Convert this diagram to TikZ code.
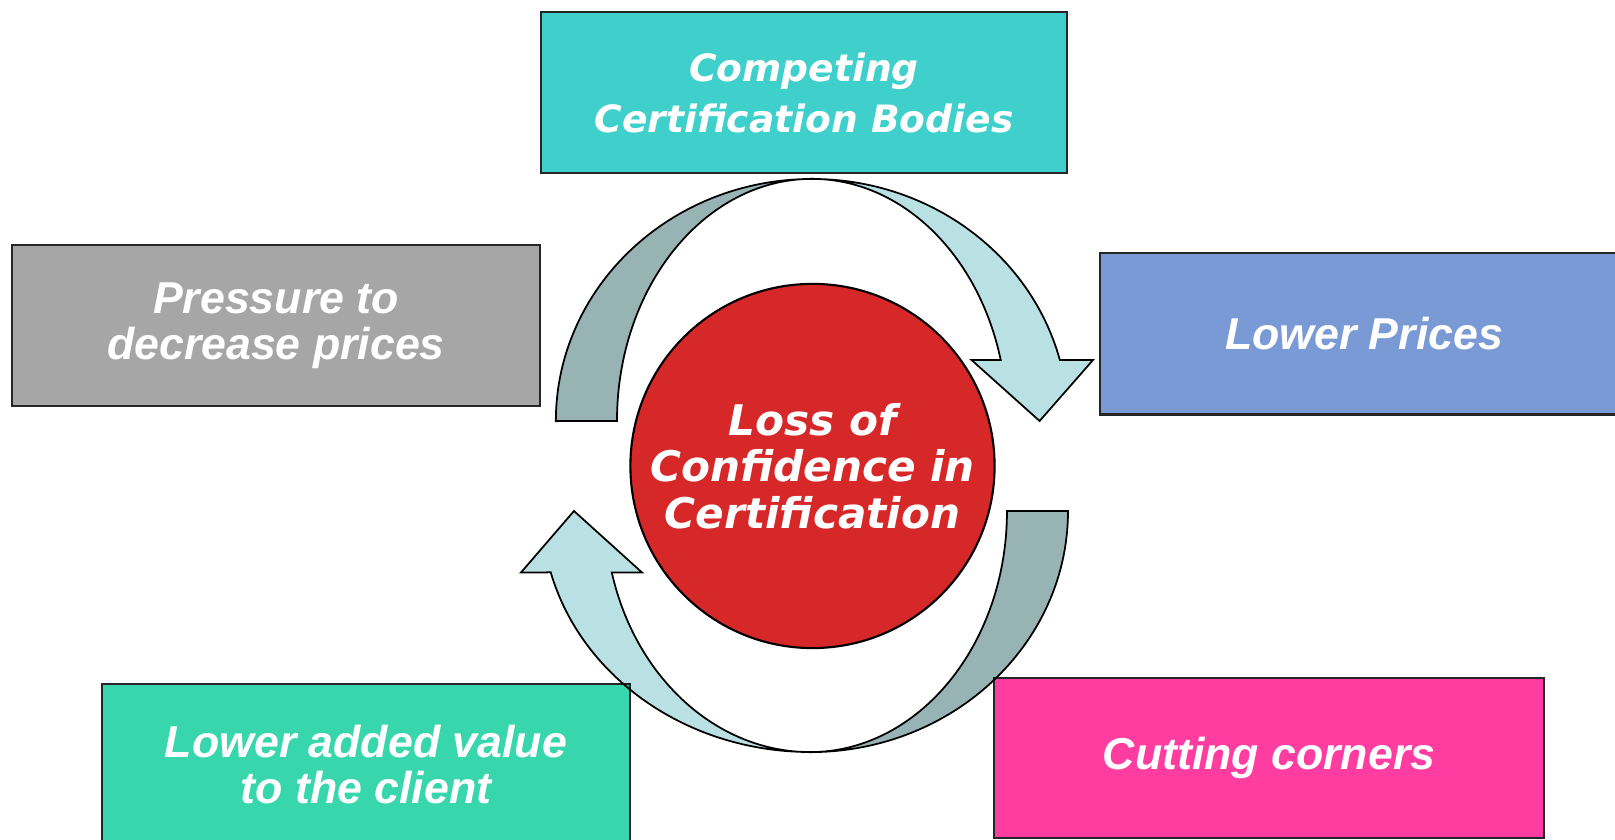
\documentclass[tikz,border=0pt]{standalone}
\usepackage{fontspec}
\newfontfamily\vfont{DejaVu Sans}
\newfontfamily\afont{Liberation Sans}
\definecolor{cteal}{RGB}{64,208,204}
\definecolor{cgray}{RGB}{166,166,166}
\definecolor{cblue}{RGB}{122,154,214}
\definecolor{cgreen}{RGB}{56,214,172}
\definecolor{cpink}{RGB}{255,60,160}
\definecolor{cred}{RGB}{214,40,40}
\definecolor{cdark}{RGB}{151,179,179}
\definecolor{clight}{RGB}{185,224,226}

\begin{document}
\begin{tikzpicture}[x=0.01cm,y=0.01cm,
    box/.style={draw=black!85,line width=0.6pt,minimum width=5.28cm,minimum height=1.61cm,
        text=white,align=center,font=\afont\bfseries\itshape\fontsize{12.7}{13}\selectfont},
    band/.style={draw=black,line width=0.5pt}]
    \useasboundingbox (0,0) rectangle (1615,840);
    % boxes round the cycle
    \node(cb)[box,fill=cteal,minimum width=5.26cm,font=\vfont\bfseries\itshape\fontsize{10.7}{14.5}\selectfont] at (804,747.5) {Competing\\Certification Bodies};
    \node(pp)[box,fill=cgray] at (276,514.5) {Pressure to\\decrease prices};
    \node(lp)[box,fill=cblue] at (1364,506) {Lower Prices};
    \node(lv)[box,fill=cgreen] at (366,75.5) {Lower added value\\to the client};
    \node(cc)[box,fill=cpink,minimum width=5.5cm,minimum height=1.6cm] at (1269,82) {Cutting corners};
    \node(loss)[circle,draw=black,line width=0.6pt,fill=cred,minimum size=3.64cm,inner sep=0pt,
        text=white,align=center,font=\vfont\bfseries\itshape\fontsize{12}{13.2}\selectfont] at (812.5,374) {Loss of\\Confidence in\\Certification};
    % curved arrows
    \begin{scope}[blend mode=multiply]
    \filldraw[band,fill=cdark] (812,661) arc[start angle=90,end angle=180,x radius=2.56cm,y radius=2.42cm]
        -- (617,419) arc[start angle=180,end angle=90,x radius=1.95cm,y radius=2.42cm] -- cycle;
    \filldraw[band,fill=clight] (812,661) arc[start angle=90,end angle=14.6,x radius=2.56cm,y radius=2.42cm]
        -- (1093,480) -- (1039.6,419) -- (971.5,480)
        -- (1000.7,480) arc[start angle=14.6,end angle=90,x radius=1.95cm,y radius=2.42cm] -- cycle;
    \filldraw[band,fill=cdark] (1068,329) arc[start angle=0,end angle=-90,x radius=2.58cm,y radius=2.41cm]
        arc[start angle=-90,end angle=0,x radius=1.97cm,y radius=2.41cm] -- cycle;
    \filldraw[band,fill=clight] (810,88) arc[start angle=270,end angle=194.78,x radius=2.68cm,y radius=2.41cm]
        -- (521,267.5) -- (574,329) -- (642,267.5)
        -- (611.8,267.5) arc[start angle=194.78,end angle=270,x radius=2.05cm,y radius=2.41cm] -- cycle;
    \end{scope}
\end{tikzpicture}
\end{document}
